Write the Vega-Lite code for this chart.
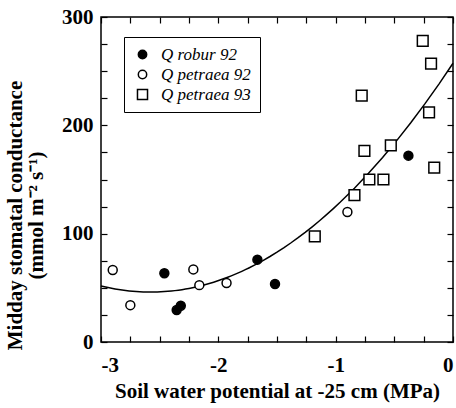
{
  "$schema": "https://vega.github.io/schema/vega-lite/v6.json",
  "width": 352,
  "height": 325,
  "autosize": {"type": "none"},
  "padding": {"left": 101, "top": 17, "right": 3, "bottom": 66},
  "background": "white",
  "data": {
    "values": [
      {"psi": -2.46, "gs": 63.5, "species": "Q robur 92"},
      {"psi": -2.355, "gs": 29.5, "species": "Q robur 92"},
      {"psi": -2.32, "gs": 33.5, "species": "Q robur 92"},
      {"psi": -1.667, "gs": 76, "species": "Q robur 92"},
      {"psi": -1.517, "gs": 53.5, "species": "Q robur 92"},
      {"psi": -0.38, "gs": 172, "species": "Q robur 92"},
      {"psi": -2.9, "gs": 66.5, "species": "Q petraea 92"},
      {"psi": -2.75, "gs": 34, "species": "Q petraea 92"},
      {"psi": -2.213, "gs": 67, "species": "Q petraea 92"},
      {"psi": -2.162, "gs": 52.5, "species": "Q petraea 92"},
      {"psi": -1.93, "gs": 54.5, "species": "Q petraea 92"},
      {"psi": -0.9, "gs": 120, "species": "Q petraea 92"},
      {"psi": -1.178, "gs": 97.5, "species": "Q petraea 93"},
      {"psi": -0.84, "gs": 135.5, "species": "Q petraea 93"},
      {"psi": -0.755, "gs": 176.5, "species": "Q petraea 93"},
      {"psi": -0.778, "gs": 227.5, "species": "Q petraea 93"},
      {"psi": -0.713, "gs": 150, "species": "Q petraea 93"},
      {"psi": -0.593, "gs": 150, "species": "Q petraea 93"},
      {"psi": -0.53, "gs": 181.5, "species": "Q petraea 93"},
      {"psi": -0.258, "gs": 278, "species": "Q petraea 93"},
      {"psi": -0.187, "gs": 257, "species": "Q petraea 93"},
      {"psi": -0.204, "gs": 212, "species": "Q petraea 93"},
      {"psi": -0.16, "gs": 161, "species": "Q petraea 93"}
    ]
  },
  "config": {
    "view": {"stroke": "black", "strokeWidth": 1.5},
    "axis": {
      "domain": false,
      "grid": false,
      "tickColor": "black",
      "tickSize": -6,
      "tickWidth": 1.2,
      "labelFont": "Liberation Serif",
      "labelFontWeight": "bold",
      "labelFontSize": 21,
      "labelColor": "black",
      "titleFont": "Liberation Serif",
      "titleFontWeight": "bold",
      "titleFontSize": 21,
      "titleColor": "black"
    }
  },
  "layer": [
    {
      "mark": {"type": "line", "color": "black", "strokeWidth": 1.5},
      "transform": [
        {"regression": "gs", "on": "psi", "method": "poly", "order": 2, "extent": [-3, 0]}
      ],
      "encoding": {
        "x": {
          "field": "psi", "type": "quantitative",
          "scale": {"domain": [-3, 0], "nice": false, "zero": false},
          "axis": {
            "orient": "bottom",
            "values": [-3, -2.75, -2.5, -2.25, -2, -1.75, -1.5, -1.25, -1, -0.75, -0.5, -0.25, 0],
            "labelExpr": "datum.value % 1 == 0 ? toString(datum.value) : ''",
            "labelPadding": 18,
            "title": "Soil water potential at -25 cm (MPa)",
            "titlePadding": 5
          }
        },
        "y": {
          "field": "gs", "type": "quantitative",
          "scale": {"domain": [0, 300], "nice": false},
          "axis": {
            "orient": "left",
            "values": [0, 25, 50, 75, 100, 125, 150, 175, 200, 225, 250, 275, 300],
            "labelExpr": "datum.value % 100 == 0 ? datum.label : ''",
            "labelPadding": 14,
            "title": ["Midday stomatal conductance", "(mmol m⁻² s⁻¹)"],
            "titleLineHeight": 21,
            "titleY": 198,
            "titleX": -76
          }
        }
      }
    },
    {
      "mark": {"type": "point", "filled": false, "strokeWidth": 1.5, "opacity": 1, "stroke": "black", "size": 80},
      "encoding": {
        "x": {
          "field": "psi", "type": "quantitative",
          "axis": {
            "orient": "top",
            "values": [-3, -2.75, -2.5, -2.25, -2, -1.75, -1.5, -1.25, -1, -0.75, -0.5, -0.25, 0],
            "labels": false,
            "title": null
          }
        },
        "y": {
          "field": "gs", "type": "quantitative",
          "axis": {
            "orient": "right",
            "values": [0, 25, 50, 75, 100, 125, 150, 175, 200, 225, 250, 275, 300],
            "labels": false,
            "title": null
          }
        },
        "shape": {
          "field": "species", "type": "nominal",
          "scale": {"domain": ["Q robur 92", "Q petraea 92", "Q petraea 93"], "range": ["circle", "circle", "M-1.2,-1.2H1.2V1.2H-1.2Z"]},
          "legend": {
            "title": null,
            "orient": "none",
            "legendX": 23,
            "legendY": 20,
            "strokeColor": "black",
            "padding": 9,
            "symbolOffset": 1,
            "labelFont": "Liberation Serif",
            "labelFontSize": 17,
            "labelFontStyle": "italic",
            "labelColor": "black",
            "labelOffset": 10,
            "rowPadding": 2,
            "symbolSize": 70,
            "encode": {
              "symbols": {
                "update": {
                  "stroke": {"value": "black"},
                  "strokeWidth": {"value": 1.5}
                }
              }
            }
          }
        },
        "fill": {
          "field": "species", "type": "nominal",
          "scale": {"domain": ["Q robur 92", "Q petraea 92", "Q petraea 93"], "range": ["black", "white", "white"]}
        }
      }
    }
  ],
  "resolve": {"axis": {"x": "independent", "y": "independent"}}
}
